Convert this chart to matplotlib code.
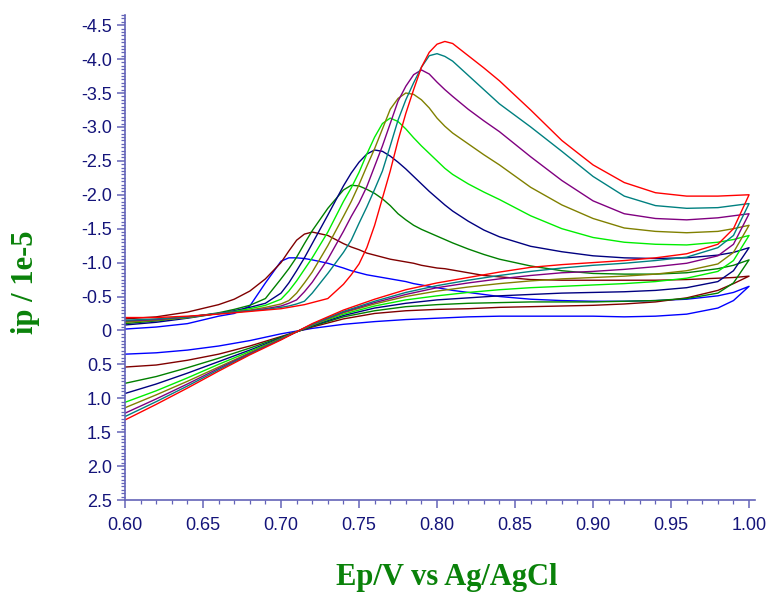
import matplotlib
matplotlib.use('Agg')
import matplotlib.pyplot as plt
from matplotlib.ticker import MultipleLocator, FuncFormatter

# potentials (V vs Ag/AgCl) for the forward (anodic) and reverse sweeps
E_fwd = [0.60, 0.62, 0.64, 0.66, 0.67, 0.68, 0.69, 0.70, 0.705, 0.71,
         0.715, 0.72, 0.73, 0.74, 0.745, 0.75, 0.755, 0.76, 0.765, 0.77,
         0.775, 0.78, 0.785, 0.79, 0.795, 0.80, 0.805, 0.81, 0.82, 0.83,
         0.84, 0.86, 0.88, 0.90, 0.92, 0.94, 0.96, 0.98, 0.99, 1.00]
E_rev = [1.00, 0.99, 0.98, 0.96, 0.94, 0.92, 0.90, 0.88, 0.86, 0.84, 0.82,
         0.80, 0.78, 0.76, 0.74, 0.72, 0.70, 0.68, 0.66, 0.64, 0.62, 0.60]

# current / 1e-5 A, one list per scan
fwd_blue = [-0.02, -0.05, -0.10, -0.21, -0.25, -0.36, -0.70, -1.02, -1.07, -1.07,
            -1.06, -1.04, -0.99, -0.92, -0.88, -0.85, -0.82, -0.80, -0.78, -0.76,
            -0.74, -0.72, -0.69, -0.67, -0.65, -0.63, -0.61, -0.59, -0.56, -0.53,
            -0.50, -0.46, -0.44, -0.43, -0.43, -0.44, -0.46, -0.51, -0.56, -0.65]
rev_blue = [-0.65, -0.44, -0.33, -0.24, -0.21, -0.20, -0.21, -0.21, -0.21, -0.21, -0.20,
            -0.18, -0.16, -0.13, -0.09, -0.03, 0.05, 0.15, 0.23, 0.29, 0.33, 0.35]

fwd_darkred = [-0.17, -0.20, -0.27, -0.38, -0.46, -0.58, -0.76, -1.00, -1.17, -1.33,
               -1.42, -1.45, -1.40, -1.28, -1.23, -1.19, -1.14, -1.11, -1.08, -1.05,
               -1.03, -1.01, -0.99, -0.96, -0.94, -0.92, -0.91, -0.89, -0.85, -0.81,
               -0.79, -0.75, -0.74, -0.74, -0.74, -0.74, -0.75, -0.77, -0.78, -0.80]
rev_darkred = [-0.80, -0.69, -0.59, -0.48, -0.42, -0.39, -0.37, -0.36, -0.35, -0.34, -0.32,
               -0.31, -0.29, -0.25, -0.17, -0.05, 0.09, 0.23, 0.35, 0.44, 0.51, 0.54]

fwd_green = [-0.10, -0.14, -0.19, -0.26, -0.31, -0.37, -0.47, -0.76, -0.91, -1.08,
             -1.28, -1.47, -1.80, -2.07, -2.14, -2.13, -2.08, -2.02, -1.94, -1.84,
             -1.72, -1.63, -1.55, -1.49, -1.44, -1.39, -1.34, -1.29, -1.20, -1.12,
             -1.05, -0.95, -0.88, -0.84, -0.83, -0.83, -0.85, -0.91, -0.96, -1.04]
rev_green = [-1.04, -0.70, -0.55, -0.47, -0.44, -0.43, -0.42, -0.42, -0.42, -0.41, -0.40,
             -0.38, -0.35, -0.29, -0.20, -0.06, 0.10, 0.26, 0.41, 0.55, 0.68, 0.78]

fwd_navy = [-0.08, -0.12, -0.18, -0.25, -0.29, -0.34, -0.40, -0.55, -0.70, -0.88,
            -1.07, -1.28, -1.70, -2.13, -2.32, -2.48, -2.60, -2.66, -2.64, -2.57,
            -2.48, -2.38, -2.27, -2.16, -2.05, -1.95, -1.85, -1.76, -1.61, -1.48,
            -1.38, -1.24, -1.16, -1.10, -1.07, -1.06, -1.07, -1.11, -1.15, -1.22]
rev_navy = [-1.22, -0.88, -0.72, -0.63, -0.59, -0.57, -0.56, -0.55, -0.53, -0.51, -0.48,
            -0.45, -0.40, -0.33, -0.22, -0.07, 0.11, 0.29, 0.46, 0.63, 0.79, 0.93]

fwd_lime = [-0.13, -0.15, -0.19, -0.25, -0.28, -0.32, -0.37, -0.46, -0.58, -0.73,
            -0.90, -1.07, -1.45, -1.90, -2.10, -2.33, -2.60, -2.85, -3.05, -3.13,
            -3.08, -2.97, -2.84, -2.72, -2.61, -2.50, -2.39, -2.30, -2.16, -2.04,
            -1.93, -1.69, -1.50, -1.37, -1.30, -1.27, -1.26, -1.30, -1.34, -1.40]
rev_lime = [-1.40, -1.03, -0.87, -0.77, -0.72, -0.69, -0.67, -0.65, -0.63, -0.60, -0.56,
            -0.51, -0.45, -0.36, -0.24, -0.08, 0.12, 0.31, 0.50, 0.70, 0.89, 1.06]

fwd_olive = [-0.12, -0.15, -0.19, -0.25, -0.27, -0.30, -0.34, -0.39, -0.44, -0.55,
             -0.70, -0.86, -1.25, -1.68, -1.90, -2.15, -2.42, -2.68, -2.97, -3.26,
             -3.42, -3.50, -3.48, -3.40, -3.28, -3.13, -3.01, -2.91, -2.75, -2.59,
             -2.44, -2.11, -1.85, -1.65, -1.51, -1.46, -1.44, -1.46, -1.50, -1.55]
rev_olive = [-1.55, -1.15, -0.98, -0.88, -0.83, -0.80, -0.78, -0.76, -0.73, -0.69, -0.64,
             -0.58, -0.50, -0.39, -0.26, -0.08, 0.12, 0.33, 0.54, 0.75, 0.95, 1.14]

fwd_purple = [-0.14, -0.16, -0.20, -0.25, -0.27, -0.29, -0.32, -0.36, -0.40, -0.45,
              -0.57, -0.71, -1.05, -1.46, -1.68, -1.88, -2.12, -2.42, -2.72, -3.05,
              -3.38, -3.60, -3.77, -3.84, -3.78, -3.66, -3.55, -3.45, -3.26, -3.09,
              -2.93, -2.56, -2.21, -1.91, -1.72, -1.65, -1.63, -1.66, -1.69, -1.72]
rev_purple = [-1.72, -1.27, -1.10, -0.99, -0.94, -0.90, -0.87, -0.85, -0.81, -0.76, -0.70,
              -0.63, -0.53, -0.41, -0.27, -0.09, 0.13, 0.34, 0.56, 0.79, 1.01, 1.22]

fwd_teal = [-0.15, -0.17, -0.20, -0.25, -0.27, -0.29, -0.31, -0.34, -0.36, -0.39,
            -0.43, -0.55, -0.84, -1.15, -1.33, -1.58, -1.82, -2.08, -2.35, -2.72,
            -3.10, -3.40, -3.65, -3.88, -4.05, -4.08, -4.04, -3.97, -3.76, -3.55,
            -3.34, -3.00, -2.64, -2.27, -1.98, -1.84, -1.80, -1.81, -1.84, -1.87]
rev_teal = [-1.87, -1.40, -1.22, -1.08, -1.03, -0.99, -0.96, -0.92, -0.87, -0.81, -0.74,
            -0.66, -0.56, -0.43, -0.28, -0.09, 0.13, 0.35, 0.58, 0.82, 1.05, 1.27]

fwd_red = [-0.19, -0.19, -0.21, -0.24, -0.26, -0.28, -0.30, -0.32, -0.34, -0.36,
           -0.38, -0.41, -0.47, -0.68, -0.82, -0.98, -1.22, -1.55, -1.95, -2.35,
           -2.80, -3.20, -3.55, -3.88, -4.10, -4.22, -4.26, -4.23, -4.05, -3.87,
           -3.68, -3.25, -2.80, -2.44, -2.18, -2.03, -1.98, -1.98, -1.99, -2.00]
rev_red = [-2.00, -1.50, -1.27, -1.13, -1.07, -1.03, -1.00, -0.97, -0.93, -0.86, -0.78,
           -0.70, -0.60, -0.46, -0.30, -0.10, 0.14, 0.36, 0.60, 0.85, 1.09, 1.32]

scans = [
    (fwd_blue, rev_blue, '#0000ff'),
    (fwd_darkred, rev_darkred, '#800000'),
    (fwd_green, rev_green, '#008000'),
    (fwd_navy, rev_navy, '#000080'),
    (fwd_lime, rev_lime, '#00ee00'),
    (fwd_olive, rev_olive, '#808000'),
    (fwd_purple, rev_purple, '#800080'),
    (fwd_teal, rev_teal, '#008080'),
    (fwd_red, rev_red, '#ff0000'),
]

AXIS_COLOR = '#6464b8'
LABEL_COLOR = '#14147a'
TITLE_COLOR = '#0a820a'

fig = plt.figure(figsize=(7.71, 6.01), dpi=100)
ax = fig.add_axes([125 / 771, 1 - 500 / 601, 630 / 771, 485 / 601])

for fwd, rev, color in scans:
    ax.plot(E_fwd + E_rev, fwd + rev, color=color, lw=1.0)

ax.set_xlim(0.60, 1.0038)
ax.set_ylim(2.5, -4.65)

# axis look
for side in ('top', 'right'):
    ax.spines[side].set_visible(False)
for side in ('left', 'bottom'):
    ax.spines[side].set_color(AXIS_COLOR)
    ax.spines[side].set_linewidth(1.2)

ax.xaxis.set_major_locator(MultipleLocator(0.05))
ax.xaxis.set_minor_locator(MultipleLocator(0.01))
ax.yaxis.set_major_locator(MultipleLocator(0.5))
ax.yaxis.set_minor_locator(MultipleLocator(0.05))
ax.xaxis.set_major_formatter(FuncFormatter(lambda v, p: '%.2f' % v))
ax.yaxis.set_major_formatter(
    FuncFormatter(lambda v, p: '0' if abs(v) < 1e-9 else ('%.1f' % v).replace('\u2212', '-')))

ax.tick_params(which='major', direction='out', length=6, width=1.1, color=AXIS_COLOR,
               labelcolor=LABEL_COLOR, labelsize=13)
ax.tick_params(which='minor', direction='out', length=3, width=0.9, color=AXIS_COLOR)
ax.tick_params(axis='x', which='major', pad=6)
ax.tick_params(axis='y', which='major', pad=3.5)
for lab in ax.get_xticklabels() + ax.get_yticklabels():
    lab.set_fontfamily('Liberation Sans')

fig.text(447 / 771, 1 - 577 / 601, 'Ep/V vs Ag/AgCl', ha='center', va='center',
         fontsize=22, fontweight='bold', family='Liberation Serif', color=TITLE_COLOR)
fig.text(25 / 771, 1 - 282 / 601, 'ip / 1e-5', ha='center', va='center', rotation=90,
         fontsize=22, fontweight='bold', family='Liberation Serif', color=TITLE_COLOR)

fig.savefig('out.png', dpi=100)
